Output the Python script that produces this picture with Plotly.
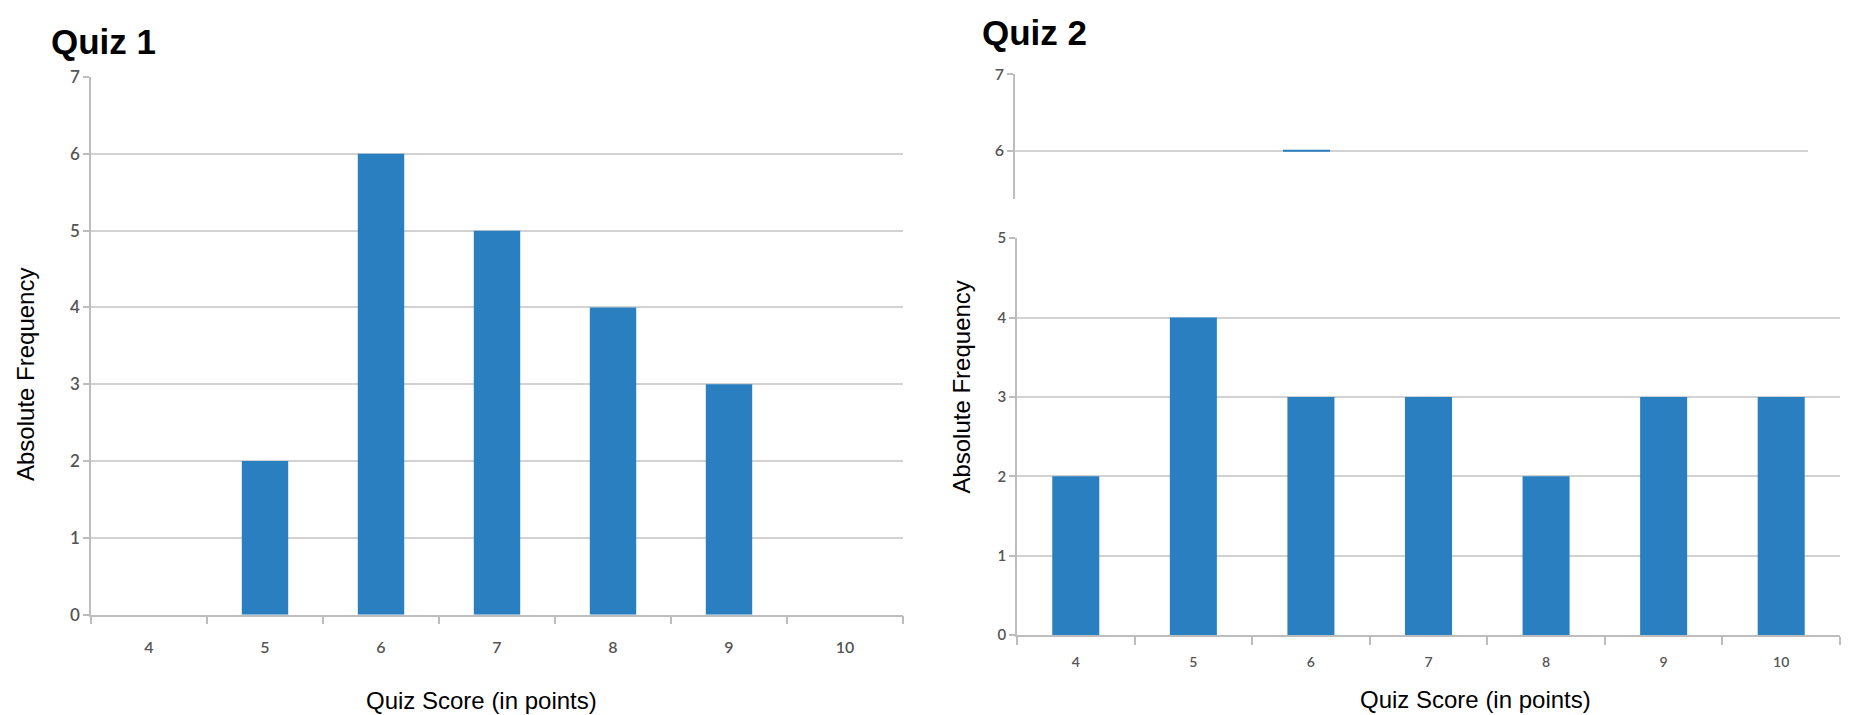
import plotly.graph_objects as go

# Quiz score categories and how many students got each score
scores = ["4", "5", "6", "7", "8", "9", "10"]
quiz1_freq = [0, 2, 6, 5, 4, 3, 0]
quiz2_freq = [2, 4, 3, 3, 2, 3, 3]

q1_yticks = [0, 1, 2, 3, 4, 5, 6, 7]
q2_yticks = [0, 1, 2, 3, 4, 5]
q2_upper_yticks = [6, 7]

W, H = 1850, 715
BLUE = "#2A7FC1"
GRID = "#d2d2d2"
AXIS = "#bdbdbd"
TICK_FONT = dict(family="Lato, Noto Sans, sans-serif", size=17, color="#555555", weight=600)
TITLE_FONT = dict(family="Liberation Sans, Arial", size=24, color="#000000")
HEAD_FONT = dict(family="Liberation Sans, Arial", size=35, color="#000000", weight="bold")


def fx(x):
    return x / W


def fy(y):
    return 1 - y / H


fig = go.Figure()

fig.add_trace(go.Bar(x=scores, y=quiz1_freq, xaxis="x", yaxis="y",
                     marker=dict(color=BLUE, line=dict(width=0)), width=0.4,
                     hoverinfo="x+y"))
fig.add_trace(go.Bar(x=scores, y=quiz2_freq, xaxis="x2", yaxis="y2",
                     marker=dict(color=BLUE, line=dict(width=0)), width=0.4,
                     hoverinfo="x+y"))
# upper strip of the Quiz 2 panel (gridlines 6 and 7 only)
fig.add_trace(go.Scatter(x=[], y=[], xaxis="x3", yaxis="y3", hoverinfo="skip"))

xcommon = dict(type="category", showgrid=False, zeroline=False, showline=True,
               linecolor=AXIS, linewidth=1.5, ticks="outside", tickson="boundaries",
               ticklen=8, tickcolor=AXIS, tickwidth=1.5, fixedrange=True)
ycommon = dict(showgrid=True, gridcolor=GRID, gridwidth=1.5, zeroline=False,
               showline=True, linecolor=AXIS, linewidth=1.5, ticks="outside",
               ticklen=6, tickcolor=AXIS, tickwidth=1.5, fixedrange=True,
               tickfont=TICK_FONT)

fig.update_layout(
    width=W, height=H, autosize=False,
    margin=dict(l=0, r=0, t=0, b=0),
    paper_bgcolor="white", plot_bgcolor="white",
    showlegend=False, bargap=0.6,
    xaxis=dict(xcommon, domain=[fx(91), fx(903)], anchor="y",
               tickfont=dict(TICK_FONT, size=16), ticklabelstandoff=17),
    yaxis=dict(ycommon, domain=[fy(622), fy(68)], anchor="x", range=[0, 7],
               tickvals=q1_yticks),
    xaxis2=dict(xcommon, domain=[fx(1017), fx(1840)], anchor="y2",
                tickfont=dict(TICK_FONT, size=14), ticklabelstandoff=13),
    yaxis2=dict(ycommon, domain=[fy(643), fy(234)], anchor="x2", range=[0, 5],
                tickvals=q2_yticks, tickfont=dict(TICK_FONT, size=15)),
    xaxis3=dict(domain=[fx(1015), fx(1808)], anchor="y3", range=[0, 1],
                visible=False, fixedrange=True),
    yaxis3=dict(ycommon, domain=[fy(194), fy(65)], anchor="x3", range=[5.367, 7],
                tickvals=q2_upper_yticks, tickfont=dict(TICK_FONT, size=16)),
)

# short blue stroke lying on the 6 gridline of the upper strip
fig.add_shape(type="line", xref="paper", yref="y3",
              x0=fx(1283), x1=fx(1330), y0=6, y1=6,
              line=dict(color=BLUE, width=2), layer="above")

annotations = [
    dict(text="Quiz 1", x=fx(49), y=fy(31), xanchor="left", yanchor="middle", font=HEAD_FONT),
    dict(text="Quiz 2", x=fx(980), y=fy(22), xanchor="left", yanchor="middle", font=HEAD_FONT),
    dict(text="Quiz Score (in points)", x=fx(481), y=fy(710), xanchor="center",
         yanchor="middle", font=TITLE_FONT),
    dict(text="Quiz Score (in points)", x=fx(1475), y=fy(709), xanchor="center",
         yanchor="middle", font=TITLE_FONT),
    dict(text="Absolute Frequency", x=fx(26), y=fy(375), xanchor="center",
         yanchor="middle", textangle=-90, font=TITLE_FONT),
    dict(text="Absolute Frequency", x=fx(962), y=fy(388), xanchor="center",
         yanchor="middle", textangle=-90, font=TITLE_FONT),
]
for a in annotations:
    fig.add_annotation(xref="paper", yref="paper", showarrow=False, **a)

fig.write_html("out.html")
